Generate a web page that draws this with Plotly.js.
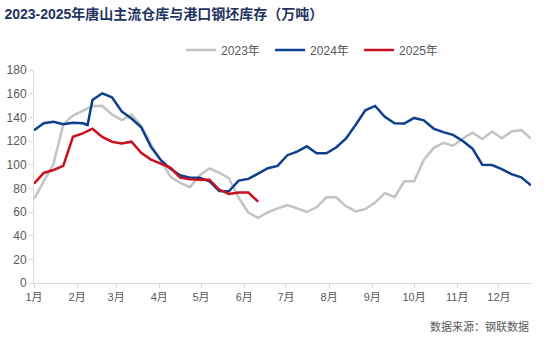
<!DOCTYPE html>
<html>
<head>
<meta charset="utf-8">
<script src="https://cdn.plot.ly/plotly-3.0.1.min.js"></script>
<style>
html,body{margin:0;padding:0;background:#fff;}
#chart{width:550px;height:355px;}
</style>
</head>
<body>
<div id="chart"></div>
<script>
// Weekly values (万吨), week index from the first week of January
var values2023 = [71, 86, 100.5, 134, 141.5, 145.5, 149.6, 149.8, 142.5, 137.7, 142.3, 133,
  117, 104, 90, 84.5, 81, 91, 96.9, 93.2, 88.5, 72, 59.5, 55, 59.8, 63.1, 65.9, 63.1,
  60, 64, 72.4, 72.4, 65, 60.5, 62.5, 68, 76, 72.5, 86, 86, 104, 114, 118.5, 116,
  122, 127, 121.7, 128, 122.3, 128, 129.3, 122];

var weeks2024 = [0, 1, 2, 3, 4, 5, 5.5, 6, 7, 8, 9, 10, 11, 12, 13, 14, 15, 16, 17, 18, 19,
  20, 21, 22, 23, 24, 25, 26, 27, 28, 29, 30, 31, 32, 33, 34, 35, 36, 37, 38, 39, 40,
  41, 42, 43, 44, 45, 46, 47, 48, 49, 50, 51];
var values2024 = [129, 135, 136.3, 134.1, 135.5, 135, 133.5, 154.7, 160.3, 157, 145, 139, 131.6,
  115, 104, 96.5, 91, 89, 89, 86, 77.7, 77.5, 86.5, 88, 92.5, 97, 99, 108, 111, 115.5,
  109.6, 109.6, 114.5, 122, 133.5, 146, 149.6, 140.5, 135, 134.7, 139.5, 137.5, 130.5,
  127.5, 125.2, 120, 113.5, 100, 99.7, 96.2, 92, 89.3, 82.5];

var values2025 = [84, 93, 95.5, 99, 123.6, 126.5, 130.4, 123.4, 119.4, 118, 119.4, 110,
  104.3, 100.6, 97.5, 89, 87.6, 87.3, 87.3, 79, 75.2, 76.5, 76.5, 68.7];

var seriesNames = ['2023年', '2024年', '2025年'];
var monthLabels = ['1月','2月','3月','4月','5月','6月','7月','8月','9月','10月','11月','12月'];
var monthStartDays = [0, 31, 59, 90, 120, 151, 181, 212, 243, 273, 304, 334];

function idx(arr){ var o=[]; for(var i=0;i<arr.length;i++) o.push(i); return o; }
var monthTickWeeks = monthStartDays.map(function(d){ return d/7; });

var FONT = 'Liberation Sans, Arial, Noto Sans CJK SC, sans-serif';
var traces = [
  {x: idx(values2023), y: values2023, name: seriesNames[0], type:'scatter', mode:'lines',
   line:{color:'#c3c3c3', width:2.5}},
  {x: weeks2024, y: values2024, name: seriesNames[1], type:'scatter', mode:'lines',
   line:{color:'#0e3f8f', width:2.5}},
  {x: idx(values2025), y: values2025, name: seriesNames[2], type:'scatter', mode:'lines',
   line:{color:'#c8101e', width:2.5}}
];

var layout = {
  width:550, height:355,
  margin:{l:34, r:19, t:70, b:72, pad:0},
  paper_bgcolor:'#fff', plot_bgcolor:'#fff',
  font:{family:FONT, size:12, color:'#595959'},
  title:{text:'<b>2023-2025年唐山主流仓库与港口钢坯库存（万吨）</b>',
    font:{family:'Liberation Sans, Noto Sans CJK SC, sans-serif', size:14, color:'#1f3461'},
    xref:'container', yref:'container', x:0.008, xanchor:'left', y:0.96, yanchor:'middle'},
  showlegend:true,
  legend:{orientation:'h', x:0.296, xanchor:'left', y:1.094, yanchor:'middle',
    entrywidth:44, entrywidthmode:'pixels',
    font:{family:FONT, size:12, color:'#595959'}, bgcolor:'rgba(0,0,0,0)', traceorder:'normal'},
  xaxis:{range:[0,51], tickmode:'array', tickvals:monthTickWeeks, ticktext:monthLabels,
    showgrid:false, zeroline:false, showline:true, linecolor:'#d9d9d9', linewidth:1,
    ticks:'outside', ticklen:4, tickcolor:'#d9d9d9', tickfont:{size:11, color:'#595959'},
    fixedrange:true},
  yaxis:{range:[0,180], dtick:20, tick0:0, showgrid:false, zeroline:false,
    showline:true, linecolor:'#d9d9d9', linewidth:1, ticks:'outside', ticklen:4,
    tickcolor:'#d9d9d9', tickfont:{size:12, color:'#595959'}, fixedrange:true},
  annotations:[{text:'数据来源：钢联数据', xref:'paper', yref:'paper',
    x:1.0, xanchor:'right', y:-0.2, yanchor:'middle', showarrow:false,
    font:{family:'Noto Sans CJK SC, sans-serif', size:11, color:'#595959'}}]
};

Plotly.newPlot('chart', traces, layout, {displayModeBar:false, staticPlot:true});
</script>
</body>
</html>
